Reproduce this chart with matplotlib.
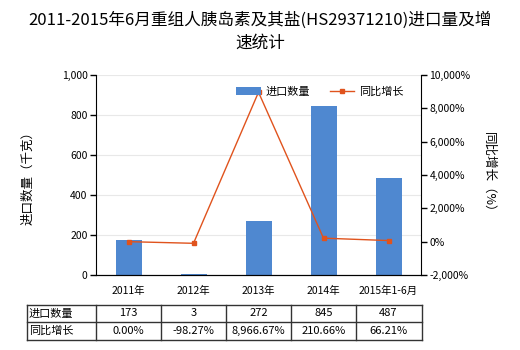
import matplotlib
matplotlib.use('Agg')
import matplotlib.pyplot as plt
import numpy as np

plt.rcParams['font.family'] = ['Noto Sans CJK SC', 'DejaVu Sans']

# 数据
categories = ['2011年', '2012年', '2013年', '2014年', '2015年1-6月']
quantity = [173, 3, 272, 845, 487]
growth = [0.00, -98.27, 8966.67, 210.66, 66.21]
quantity_labels = ['173', '3', '272', '845', '487']
growth_labels = ['0.00%', '-98.27%', '8,966.67%', '210.66%', '66.21%']

W, H = 520, 350
fig = plt.figure(figsize=(W / 100, H / 100), dpi=100)

# 主图区域 (像素 -> 比例)
left, right, top, bottom = 96, 421, 75, 275
ax = fig.add_axes([left / W, 1 - bottom / H, (right - left) / W, (bottom - top) / H])

x = np.arange(len(categories))
bar_color = '#4F88D0'
line_color = '#E0531D'

ax.bar(x, quantity, width=0.4, color=bar_color, label='进口数量', zorder=2)
ax.set_xlim(-0.5, len(categories) - 0.5)
ax.set_ylim(0, 1000)
ax.set_yticks(np.arange(0, 1001, 200))
ax.set_yticklabels(['0', '200', '400', '600', '800', '1,000'], fontsize=7.5)
ax.set_xticks(x)
ax.set_xticklabels(categories, fontsize=7.5)
ax.tick_params(axis='x', length=0, pad=8)
ax.tick_params(axis='y', length=4, width=1, pad=2)
ax.grid(axis='y', color='#E8E8E8', linewidth=0.8, zorder=0)
ax.spines['top'].set_visible(False)
ax.spines['right'].set_visible(False)
ax.set_ylabel('进口数量（千克）', fontsize=9, labelpad=20)

ax2 = ax.twinx()
ax2.plot(x, growth, color=line_color, linewidth=1, marker='s', markersize=3.5,
         markerfacecolor=line_color, label='同比增长', zorder=3)
ax2.set_ylim(-2000, 10000)
ax2.set_yticks(np.arange(-2000, 10001, 2000))
ax2.set_yticklabels(['-2,000%', '0%', '2,000%', '4,000%', '6,000%', '8,000%', '10,000%'], fontsize=7.5)
ax2.tick_params(axis='y', length=4, width=1, pad=2)
ax2.spines['top'].set_visible(False)
ax2.spines['left'].set_visible(False)
ax2.set_ylabel('同比增长（%）', fontsize=9, rotation=270, labelpad=18)

# 图例
h1, l1 = ax.get_legend_handles_labels()
h2, l2 = ax2.get_legend_handles_labels()
fig.legend(h1 + h2, l1 + l2, loc='center', bbox_to_anchor=(0.615, 1 - 92 / H), ncol=2,
           frameon=False, fontsize=8, handlelength=2.2, handletextpad=0.4, columnspacing=1.8)

# 标题
fig.text(0.5, 1 - 20 / H, '2011-2015年6月重组人胰岛素及其盐(HS29371210)进口量及增', ha='center', va='center', fontsize=12)
fig.text(0.5, 1 - 43 / H, '速统计', ha='center', va='center', fontsize=12)

# 数据表
t_left, t_right = 27, 422
col_w = (right - left) / len(categories)
rows_y = [305, 322, 340]
line_kw = dict(color='#333333', linewidth=1, transform=fig.transFigure, clip_on=False)
for yy in rows_y:
    fig.add_artist(plt.Line2D([t_left / W, t_right / W], [1 - yy / H, 1 - yy / H], **line_kw))
col_edges = [t_left] + [left + i * col_w for i in range(len(categories) + 1)]
col_edges[-1] = t_right
for xx in col_edges:
    fig.add_artist(plt.Line2D([xx / W, xx / W], [1 - rows_y[0] / H, 1 - rows_y[-1] / H], **line_kw))

row_names = ['进口数量', '同比增长']
row_values = [quantity_labels, growth_labels]
for r, (name, vals) in enumerate(zip(row_names, row_values)):
    yc = 1 - (rows_y[r] + rows_y[r + 1]) / 2 / H
    fig.text((t_left + 2) / W, yc, name, ha='left', va='center', fontsize=8)
    for i, v in enumerate(vals):
        fig.text((left + (i + 0.5) * col_w) / W, yc, v, ha='center', va='center', fontsize=8)

fig.savefig('out.png', dpi=100)
